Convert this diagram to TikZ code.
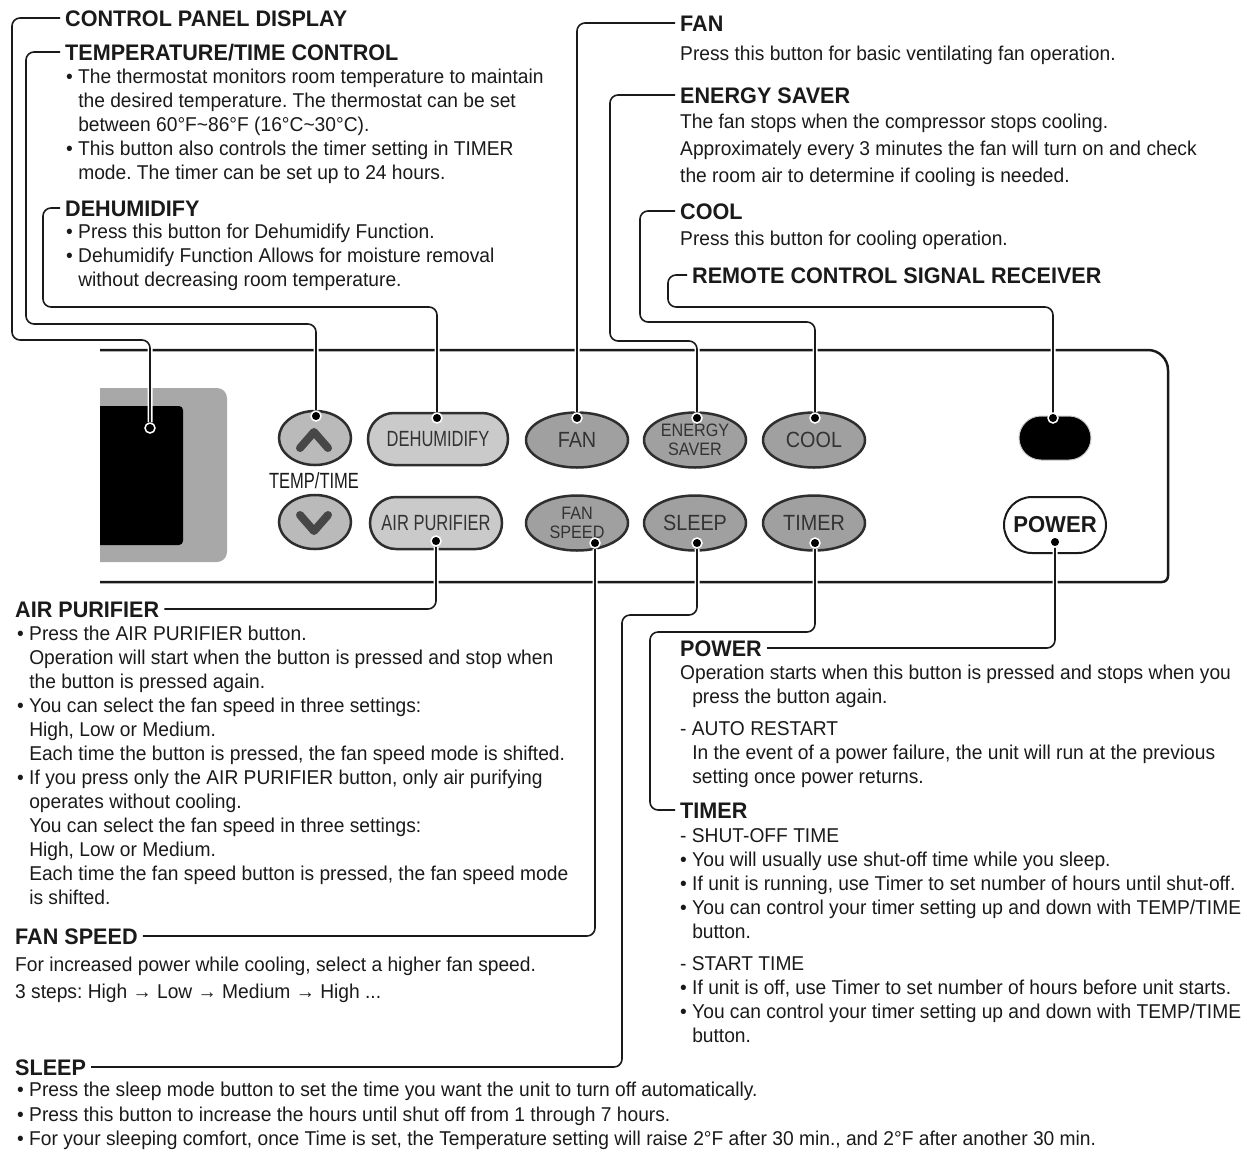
\documentclass[tikz,border=0pt]{standalone}
\usepackage{fontspec}
\setmainfont[FakeStretch=0.96]{Liberation Sans}
\newfontfamily\hfont[FakeStretch=0.96]{Liberation Sans}
\newfontfamily\bfont[FakeStretch=0.75]{Liberation Sans}
\newfontfamily\efont[FakeStretch=0.9]{Liberation Sans}
\usetikzlibrary{shapes.geometric,shapes.misc}
\definecolor{ink}{HTML}{1A1A1A}
\definecolor{btnborder}{HTML}{2E2E2E}
\definecolor{btnfill}{HTML}{A0A0A0}
\definecolor{lightfill}{HTML}{CACACA}
\definecolor{btntext}{HTML}{333333}
\definecolor{dispgray}{HTML}{A8A8A8}
\newcommand{\ind}{\hphantom{•\ }}
\frenchspacing
\begin{document}
\frenchspacing
\begin{tikzpicture}[x=1pt,y=-1pt,
  head/.style={font=\hfont\bfseries\fontsize{22.5}{26}\selectfont, anchor=west, inner sep=0pt, text height=16pt, text depth=0pt, text=ink},
  body/.style={font=\fontsize{20}{24}\selectfont\frenchspacing, anchor=north west, inner sep=0pt, align=left, text=ink},
  bodywide/.style={body, font=\fontsize{20}{27}\selectfont\frenchspacing},
  leader/.style={draw=ink, line width=1.6pt, rounded corners=8pt, preaction={draw=white, line width=5pt}},
  dot/.style={circle, fill=black, draw=white, line width=1.5pt, inner sep=0pt, minimum size=10pt},
  ell/.style={ellipse, draw=btnborder, line width=2.5pt, fill=btnfill, minimum width=102pt, minimum height=55pt, inner sep=0pt, text=btntext, font=\efont\fontsize{22}{22}\selectfont},
  ell2/.style={ell, align=center, font=\efont\fontsize{18}{19}\selectfont},
  stadium/.style={rounded rectangle, draw=btnborder, line width=2.5pt, fill=lightfill, minimum width=140pt, minimum height=52pt, inner sep=0pt, text=btntext, font=\bfont\fontsize{22}{22}\selectfont},
  roundbtn/.style={ellipse, draw=btnborder, line width=2.5pt, fill=lightfill!92!black, minimum width=72pt, minimum height=54pt, inner sep=0pt},
  chev/.style={draw=btntext!90!white, line width=8pt, line cap=round, line join=round},
  panelline/.style={draw=ink, line width=2.5pt}
]
\useasboundingbox (0,0) rectangle (1247,1152);

% ---------- panel ----------
\draw[panelline] (100,350) -- (1148,350)
  .. controls (1159,350) and (1168,359) .. (1168,370)
  -- (1168,576)
  .. controls (1168,579.3) and (1165.3,582) .. (1162,582)
  -- (100,582);

% display
\begin{scope}
  \clip (100,380) rectangle (240,570);
  \fill[dispgray, rounded corners=10pt] (80,388) rectangle (227,562);
  \fill[black, rounded corners=4pt] (80,406) rectangle (183,545);
\end{scope}

% buttons
\node[roundbtn] (up) at (315,438) {};
\draw[chev] (300,448) -- (314,432) -- (328,448);
\node[font=\bfont\fontsize{22}{22}\selectfont, text=ink] (tt) at (314,481) {TEMP/TIME};
\node[roundbtn] (down) at (315,522) {};
\draw[chev] (300,515) -- (314,531) -- (328,515);

\node[stadium] (deh) at (438,439) {DEHUMIDIFY};
\node[stadium, minimum width=132pt] (air) at (436,523) {AIR PURIFIER};

\node[ell] (fan) at (577,440) {FAN};
\node[ell2] (ens) at (695,440) {ENERGY\\SAVER};
\node[ell] (cool) at (814,440) {COOL};
\node[ell2] (fs) at (577,523) {FAN\\SPEED};
\node[ell] (sleep) at (695,523) {SLEEP};
\node[ell] (timer) at (814,523) {TIMER};

\node[rounded rectangle, fill=black, draw=lightfill, line width=1pt, minimum width=72pt, minimum height=44pt, inner sep=0pt] (rec) at (1055,438) {};
\node[rounded rectangle, draw=ink, line width=2pt, fill=white, minimum width=102pt, minimum height=56pt, inner sep=0pt, font=\hfont\bfseries\fontsize{23}{23}\selectfont, text=ink] (pow) at (1055,525) {POWER};

% ---------- dots ----------
\node[dot] (dcpd) at (150,428) {};
\node[dot] (dup) at (316,416) {};
\node[dot] (ddeh) at (437,418) {};
\node[dot] (dfan) at (577,418) {};
\node[dot] (dens) at (697,418) {};
\node[dot] (dcool) at (815,418) {};
\node[dot] (drec) at (1053,418) {};
\node[dot] (dair) at (436,541) {};
\node[dot] (dfs) at (595,543) {};
\node[dot] (dsleep) at (697,543) {};
\node[dot] (dtimer) at (815,543) {};
\node[dot] (dpow) at (1055,542) {};

% ---------- headings ----------
\node[head] (hcpd) at (65,18) {CONTROL PANEL DISPLAY};
\node[head] (htemp) at (65,52) {TEMPERATURE/TIME CONTROL};
\node[head] (hdeh) at (65,208) {DEHUMIDIFY};
\node[head] (hfan) at (680,23) {FAN};
\node[head] (hens) at (680,95) {ENERGY SAVER};
\node[head] (hcool) at (680,211) {COOL};
\node[head] (hrem) at (692,275) {REMOTE CONTROL SIGNAL RECEIVER};
\node[head] (hair) at (15,609) {AIR PURIFIER};
\node[head] (hfs) at (15,936) {FAN SPEED};
\node[head] (hsleep) at (15,1067) {SLEEP};
\node[head] (hpow) at (680,648) {POWER};
\node[head] (htimer) at (680,810) {TIMER};

% ---------- body texts ----------
\node[body] (btemp) at (66,69) {• The thermostat monitors room temperature to maintain\\
\ind the desired temperature. The thermostat can be set\\
\ind between 60°F\textasciitilde86°F (16°C\textasciitilde30°C).\\
• This button also controls the timer setting in TIMER\\
\ind mode. The timer can be set up to 24 hours.};

\node[body] (bdeh) at (66,224) {• Press this button for Dehumidify Function.\\
• Dehumidify Function Allows for moisture removal\\
\ind without decreasing room temperature.};

\node[body] (bfan) at (680,46) {Press this button for basic ventilating fan operation.};

\node[bodywide] (bens) at (680,114) {The fan stops when the compressor stops cooling.\\
Approximately every 3 minutes the fan will turn on and check\\
the room air to determine if cooling is needed.};

\node[body] (bcool) at (680,231) {Press this button for cooling operation.};

\node[body] (bair) at (17,626) {• Press the AIR PURIFIER button.\\
\ind Operation will start when the button is pressed and stop when\\
\ind the button is pressed again.\\
• You can select the fan speed in three settings:\\
\ind High, Low or Medium.\\
\ind Each time the button is pressed, the fan speed mode is shifted.\\
• If you press only the AIR PURIFIER button, only air purifying\\
\ind operates without cooling.\\
\ind You can select the fan speed in three settings:\\
\ind High, Low or Medium.\\
\ind Each time the fan speed button is pressed, the fan speed mode\\
\ind is shifted.};

\node[bodywide] (bfs) at (15,957) {For increased power while cooling, select a higher fan speed.\\
3 steps: High → Low → Medium → High ...};

\node[body, font=\fontsize{20}{24.5}\selectfont\frenchspacing] (bsleep) at (17,1082) {• Press the sleep mode button to set the time you want the unit to turn off automatically.\\
• Press this button to increase the hours until shut off from 1 through 7 hours.\\
• For your sleeping comfort, once Time is set, the Temperature setting will raise 2°F after 30 min., and 2°F after another 30 min.};

\node[body] (bpow) at (680,665) {Operation starts when this button is pressed and stops when you\\
\ind press the button again.\\[8pt]
- AUTO RESTART\\
\ind In the event of a power failure, the unit will run at the previous\\
\ind setting once power returns.};

\node[body] (btimer) at (680,828) {- SHUT-OFF TIME\\
• You will usually use shut-off time while you sleep.\\
• If unit is running, use Timer to set number of hours until shut-off.\\
• You can control your timer setting up and down with TEMP/TIME\\
\ind button.\\[8pt]
- START TIME\\
• If unit is off, use Timer to set number of hours before unit starts.\\
• You can control your timer setting up and down with TEMP/TIME\\
\ind button.};

% ---------- leaders ----------
\draw[leader] ([xshift=-5pt]hcpd.west) -| (12,340) -| (dcpd);
\draw[leader] ([xshift=-5pt]htemp.west) -| (26,324) -| (dup);
\draw[leader] ([xshift=-5pt]hdeh.west) -| (43,307) -| (ddeh);
\draw[leader] ([xshift=-5pt]hfan.west) -| (dfan);
\draw[leader] ([xshift=-5pt]hens.west) -| (610,341) -| (dens);
\draw[leader] ([xshift=-5pt]hcool.west) -| (640,322) -| (dcool);
\draw[leader] ([xshift=-5pt]hrem.west) -| (668,307) -| (drec);
\draw[leader] ([xshift=5pt]hair.east) -| (dair);
\draw[leader] ([xshift=5pt]hfs.east) -| (dfs);
\draw[leader] ([xshift=5pt]hsleep.east) -| (622,615) -| (dsleep);
\draw[leader] ([xshift=-5pt]htimer.west) -| (650,632) -| (dtimer);
\draw[leader] ([xshift=5pt]hpow.east) -| (dpow);
\end{tikzpicture}
\end{document}
